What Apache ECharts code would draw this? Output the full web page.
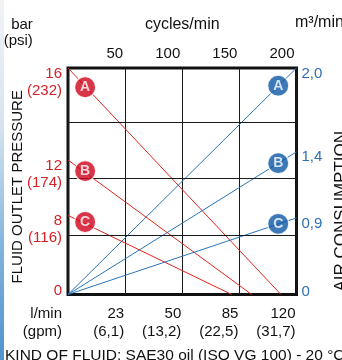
<!DOCTYPE html>
<html><head><meta charset="utf-8">
<script src="https://cdn.jsdelivr.net/npm/echarts@6/dist/echarts.min.js"></script>
<style>html,body{margin:0;padding:0;background:#fff}#c{width:342px;height:360px}</style>
</head><body><div id="c"></div>
<script>
// ---- data ----
const curveNames = ['A', 'B', 'C'];
const cycleTicks = [50, 100, 150, 200];               // cycles/min (top axis)
const flowTicks = ['23', '50', '85', '120'];            // l/min at the same grid lines
const gpmTicks = ['(6,1)', '(13,2)', '(22,5)', '(31,7)'];
const pressureBar = ['16', '12', '8'];
const pressurePsi = ['(232)', '(174)', '(116)'];
const pressureLevel = [100, 59.4, 34.9];                // % of plot height at 0 cycles/min
const pressureZeroCycles = [186.4, 160.8, 143.3];       // cycles/min where outlet pressure reaches 0
const airLabels = ['2,0', '1,4', '0,9'];
const airLevel = [100, 63.0, 33.8];                     // % of plot height at 200 cycles/min
const redMarkerX = [15, 15, 15];
const redMarkerY = [91.5, 54.5, 32.0];
const blueMarkerX = [184, 184, 184];
const blueMarkerY = [92.2, 58.0, 31.2];
const gridRows = [26.3, 51.2, 76.2];

const RED = '#e1251b', RED_TXT = '#d61f26', RED_MK = '#d0021b';
const BLUE = '#2a74bb', BLUE_TXT = '#2f6fb3', BLUE_MK = '#0b57a4';
const FONT = "'Liberation Sans Narrow', 'Liberation Sans', Arial, sans-serif";

const chart = echarts.init(document.getElementById('c'), null, { renderer: 'canvas' });

const series = [];
series.push({
  type: 'line', data: [], z: 1, silent: true,
  markLine: {
    silent: true, symbol: 'none', label: { show: false },
    lineStyle: { color: '#1a1a1a', width: 1, type: 'solid' },
    data: gridRows.map(v => ({ yAxis: v }))
  }
});
curveNames.forEach((n, i) => {
  series.push({
    type: 'line', name: 'P' + n, xAxisIndex: 0, yAxisIndex: 0, z: 3,
    data: [[0, pressureLevel[i]], [pressureZeroCycles[i], 0]],
    symbol: 'none', lineStyle: { color: RED, width: 1 }
  });
  series.push({
    type: 'line', name: 'Q' + n, xAxisIndex: 0, yAxisIndex: 1, z: 3,
    data: [[0, 0], [200, airLevel[i]]],
    symbol: 'none', lineStyle: { color: BLUE, width: 1 }
  });
});
const mkLabel = { show: true, position: 'inside', color: '#fff', fontWeight: 'bold', fontSize: 14, fontFamily: 'Liberation Sans, Arial, sans-serif', formatter: p => p.data[2] };
series.push({
  type: 'scatter', z: 5, xAxisIndex: 0, yAxisIndex: 0, symbolSize: 21,
  data: curveNames.map((n, i) => [redMarkerX[i], redMarkerY[i], n]),
  itemStyle: { color: RED_MK, borderColor: '#fff', borderWidth: 1.2 },
  label: mkLabel
});
series.push({
  type: 'scatter', z: 5, xAxisIndex: 0, yAxisIndex: 1, symbolSize: 21,
  data: curveNames.map((n, i) => [blueMarkerX[i], blueMarkerY[i], n]),
  itemStyle: { color: BLUE_MK, borderColor: '#fff', borderWidth: 1.2 },
  label: mkLabel
});

const txt = { fontFamily: FONT, fontSize: 15, color: '#111' };

chart.setOption({
  animation: false,
  textStyle: { fontFamily: FONT },
  graphic: [{
    type: 'rect', left: 0, top: 0, z: -10,
    shape: { x: 0, y: 0, width: 4, height: 360 },
    style: { fill: new echarts.graphic.LinearGradient(0, 0, 0, 1, [
      { offset: 0, color: '#f2f4f6' }, { offset: 0.35, color: '#d5e3ef' },
      { offset: 0.7, color: '#7fb2dc' }, { offset: 1, color: '#4f93cf' }]) }
  }],
  title: [
    { text: 'bar\n(psi)', right: 280, top: 17, padding: 0, textStyle: Object.assign({}, txt, { fontWeight: 'normal', lineHeight: 16 }), textAlign: 'right' },
    { text: 'm³/min', left: 295, top: 15, padding: 0, textStyle: Object.assign({}, txt, { fontWeight: 'normal', fontSize: 16 }) },
    { text: 'KIND OF FLUID: SAE30 oil (ISO VG 100) - 20 °C', left: 5, top: 348, padding: 0, textStyle: Object.assign({}, txt, { fontWeight: 'normal', fontSize: 15.5 }) }
  ],
  grid: { left: 68, top: 68, right: 45.5, bottom: 65.5, outerBoundsMode: 'none', containLabel: false, show: true, borderColor: '#111', borderWidth: 3, backgroundColor: 'transparent' },
  xAxis: [{
    type: 'value', position: 'bottom', min: 0, max: 200, interval: 50,
    axisLine: { show: false }, axisTick: { show: false },
    splitLine: { show: true, lineStyle: { color: '#1a1a1a', width: 1 } },
    axisLabel: {
      margin: 10, align: 'right', customValues: [0].concat(cycleTicks),
      formatter: v => v === 0 ? '{u|l/min}\n{u|(gpm)}' : '{t|' + flowTicks[cycleTicks.indexOf(v)] + '}\n{t|' + gpmTicks[cycleTicks.indexOf(v)] + '}',
      rich: {
        u: Object.assign({}, txt, { lineHeight: 18, padding: [0, 6, 0, 0] }),
        t: Object.assign({}, txt, { lineHeight: 18, padding: [0, 1, 0, 0] })
      }
    }
  }, {
    type: 'value', position: 'top', min: 0, max: 200, interval: 50,
    axisLine: { show: false }, axisTick: { show: false }, splitLine: { show: false },
    name: 'cycles/min', nameLocation: 'middle', nameGap: 35,
    nameTextStyle: Object.assign({}, txt, { fontSize: 16 }),
    axisLabel: Object.assign({}, txt, {
      margin: 7, align: 'right', customValues: cycleTicks, padding: [0, 2, 0, 0],
      formatter: v => String(v)
    })
  }],
  yAxis: [{
    type: 'value', position: 'left', min: 0, max: 100,
    axisLine: { show: false }, axisTick: { show: false }, splitLine: { show: false },
    name: 'FLUID OUTLET PRESSURE', nameLocation: 'middle', nameGap: 43, nameRotate: 90,
    nameMoveOverlap: false,
    nameTextStyle: Object.assign({}, txt, { fontSize: 15, padding: [0, 11, 0, 0] }),
    axisLabel: {
      margin: 6, align: 'right', customValues: [0].concat(pressureLevel),
      formatter: v => {
        if (v === 0) return '{z|0}\n{zs| }';
        const i = pressureLevel.indexOf(v);
        return '{sp| }\n{v|' + pressureBar[i] + '}\n{p|' + pressurePsi[i] + '}';
      },
      rich: {
        sp: { lineHeight: 34, fontSize: 8 },
        zs: { lineHeight: 8, fontSize: 6 },
        z: Object.assign({}, txt, { color: RED_TXT, lineHeight: 11 }),
        v: Object.assign({}, txt, { color: RED_TXT, lineHeight: 11 }),
        p: Object.assign({}, txt, { color: RED_TXT, lineHeight: 23 })
      }
    }
  }, {
    type: 'value', position: 'right', min: 0, max: 100,
    axisLine: { show: false }, axisTick: { show: false }, splitLine: { show: false },
    name: 'AIR CONSUMPTION', nameLocation: 'middle', nameGap: 36, nameRotate: 90,
    nameTextStyle: Object.assign({}, txt, { fontSize: 17, padding: [0, 60, 0, 0] }),
    axisLabel: {
      margin: 5, align: 'left', customValues: [0].concat(airLevel),
      formatter: v => {
        if (v === 0) return '{z|0}\n{zs| }';
        const i = airLevel.indexOf(v);
        return '{sp| }\n{v|' + airLabels[i] + '}';
      },
      rich: {
        sp: { lineHeight: 11, fontSize: 6 },
        zs: { lineHeight: 6, fontSize: 5 },
        z: Object.assign({}, txt, { color: BLUE_TXT, lineHeight: 11 }),
        v: Object.assign({}, txt, { color: BLUE_TXT, lineHeight: 11 })
      }
    }
  }],
  series: series
});
</script></body></html>
